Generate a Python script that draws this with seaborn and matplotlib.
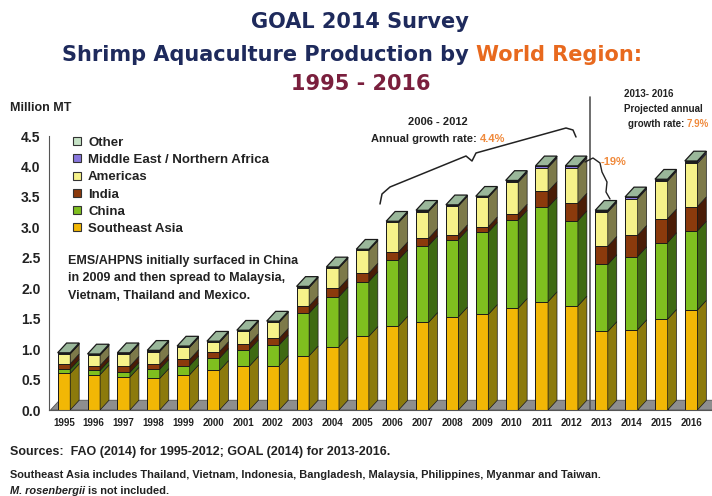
import numpy as np
import pandas as pd
import matplotlib
matplotlib.use("Agg")
import matplotlib.pyplot as plt
import seaborn as sns
from matplotlib.patches import Polygon
from matplotlib.lines import Line2D

# Million MT by region
years = [str(y) for y in range(1995, 2017)]
southeast_asia = [0.60, 0.58, 0.54, 0.52, 0.58, 0.65, 0.72, 0.73, 0.89, 1.04, 1.21,
                  1.38, 1.44, 1.53, 1.57, 1.67, 1.78, 1.71, 1.29, 1.32, 1.49, 1.64]
china = [0.07, 0.07, 0.08, 0.15, 0.15, 0.20, 0.27, 0.34, 0.70, 0.82, 0.90,
         1.09, 1.26, 1.27, 1.35, 1.45, 1.55, 1.40, 1.10, 1.20, 1.26, 1.30]
india = [0.09, 0.08, 0.10, 0.08, 0.10, 0.11, 0.10, 0.11, 0.12, 0.14, 0.14,
         0.13, 0.12, 0.08, 0.09, 0.10, 0.26, 0.29, 0.30, 0.35, 0.39, 0.40]
americas = [0.16, 0.17, 0.20, 0.21, 0.20, 0.15, 0.20, 0.26, 0.30, 0.33, 0.37,
            0.48, 0.44, 0.47, 0.48, 0.52, 0.39, 0.58, 0.56, 0.60, 0.62, 0.71]
middle_east = [0.01, 0.01, 0.01, 0.01, 0.01, 0.01, 0.01, 0.01, 0.01, 0.01, 0.01,
               0.01, 0.01, 0.01, 0.01, 0.02, 0.02, 0.02, 0.02, 0.02, 0.02, 0.03]
other = [0.01, 0.01, 0.01, 0.01, 0.01, 0.01, 0.01, 0.01, 0.01, 0.01, 0.01,
         0.01, 0.01, 0.01, 0.01, 0.01, 0.01, 0.01, 0.01, 0.01, 0.01, 0.01]

regions = ['Southeast Asia', 'China', 'India', 'Americas',
           'Middle East / Northern Africa', 'Other']
layers = [southeast_asia, china, india, americas, middle_east, other]
front_colors = ['#f2b705', '#7fbf1f', '#8b3a0c', '#f6f28a', '#8877dd', '#c6e3c6']
side_colors = ['#8c7a0c', '#3f6a12', '#4a1c06', '#7d7a4a', '#4a3f88', '#7f9a7f']
top_color = '#9ab79a'

df = pd.DataFrame({'Year': years})
for name, vals in zip(regions, layers):
    df[name] = vals
cum = df[regions].cumsum(axis=1)

sns.set_style('white')
plt.rcParams['font.family'] = ['Liberation Sans', 'DejaVu Sans']

fig = plt.figure(figsize=(7.12, 4.96), dpi=100)
ax = fig.add_axes([49 / 712, 1 - 410 / 496, 663 / 712, 274 / 496])

bar_w = 0.42
dx, dy = 0.30, 0.16   # fake depth

# floor
ax.add_patch(Polygon([(-0.45, 0), (21.75, 0), (21.75 + dx, dy), (-0.45 + dx, dy)],
                     closed=True, facecolor='#8e8e8e', edgecolor='#555555',
                     lw=0.6, zorder=0.5, clip_on=False))

# stacked front faces, drawn from the top layer down
for name, col in reversed(list(zip(regions, front_colors))):
    sns.barplot(x=df['Year'], y=cum[name], color=col, width=bar_w,
                edgecolor='#1a1a1a', linewidth=0.7, saturation=1, ax=ax, zorder=2)

# side and top faces for the 3-D look
for i in range(len(years)):
    xr = i + bar_w / 2
    prev = 0.0
    for name, scol in zip(regions, side_colors):
        top = cum.loc[i, name]
        ax.add_patch(Polygon([(xr, prev), (xr + dx, prev + dy), (xr + dx, top + dy), (xr, top)],
                             closed=True, facecolor=scol, edgecolor='#1a1a1a',
                             lw=0.5, zorder=2))
        prev = top
    ax.add_patch(Polygon([(i - bar_w / 2, prev), (i - bar_w / 2 + dx, prev + dy),
                          (xr + dx, prev + dy), (xr, prev)],
                         closed=True, facecolor=top_color, edgecolor='#1a1a1a',
                         lw=0.9, zorder=3))

ax.set_xlim(-0.45, 21.7)
ax.set_ylim(0, 4.5)
ax.set_yticks(np.arange(0, 4.51, 0.5))
ax.set_yticklabels([f'{v:.1f}' for v in np.arange(0, 4.51, 0.5)],
                   fontsize=10, fontweight='bold', color='#222222')
ax.set_xticks(range(len(years)))
ax.set_xticklabels(years, fontsize=7, fontweight='bold', color='#222222')
ax.set_xticks(np.arange(-0.5, 21.6, 1), minor=True)
ax.tick_params(axis='x', which='major', length=0, pad=6)
ax.tick_params(axis='x', which='minor', length=4, color='#555555', direction='out')
ax.tick_params(axis='y', length=4, color='#555555', direction='out', pad=2)
ax.set_xlabel('')
ax.set_ylabel('')
for s in ['top', 'right']:
    ax.spines[s].set_visible(False)
ax.spines['left'].set_color('#555555')
ax.spines['bottom'].set_color('#555555')

# legend
handles = [Line2D([], [], marker='s', ls='', markersize=6, markerfacecolor=c,
                  markeredgecolor='#333333', markeredgewidth=0.8)
           for c in front_colors]
leg = ax.legend(handles[::-1], regions[::-1], loc='upper left',
                bbox_to_anchor=(0.035, 0.998), frameon=False, borderpad=0,
                borderaxespad=0, handlelength=0.8, handletextpad=0.4,
                labelspacing=0.38, prop={'weight': 'bold', 'size': 9.5})
for t in leg.get_texts():
    t.set_color('#222222')

ax.text(0.15, 2.55, 'EMS/AHPNS initially surfaced in China\nin 2009 and then spread to Malaysia,\nVietnam, Thailand and Mexico.',
        fontsize=9, fontweight='bold', color='#222222', va='top', linespacing=1.62)

# titles
title_font = ['DejaVu Sans']
fig.text(0.506, 1 - 22 / 496, 'GOAL 2014 Survey', ha='center', va='center',
         fontsize=15, fontweight='bold', color='#1e2a5c', family=title_font)
fig.text(476 / 712, 1 - 55 / 496, 'Shrimp Aquaculture Production by ', ha='right', va='center',
         fontsize=15, fontweight='bold', color='#1e2a5c', family=title_font)
fig.text(476 / 712, 1 - 55 / 496, 'World Region:', ha='left', va='center',
         fontsize=15, fontweight='bold', color='#e8691e', family=title_font)
fig.text(0.506, 1 - 84 / 496, '1995 - 2016', ha='center', va='center',
         fontsize=15, fontweight='bold', color='#7a1f3d', family=title_font)

fig.text(10 / 712, 1 - 108 / 496, 'Million MT', fontsize=9, fontweight='bold',
         color='#222222', va='center')

# 2006-2012 annotation
fig.text(438 / 712, 1 - 122 / 496, '2006 - 2012', ha='center', va='center',
         fontsize=8, fontweight='bold', color='#222222')
fig.text(480 / 712, 1 - 139 / 496, 'Annual growth rate: ', ha='right', va='center',
         fontsize=8, fontweight='bold', color='#222222')
fig.text(480 / 712, 1 - 139 / 496, '4.4%', ha='left', va='center',
         fontsize=8, fontweight='bold', color='#f08a3c')

def px(points):
    return [p[0] / 712 for p in points], [1 - p[1] / 496 for p in points]

brace = [(380, 204), (382, 194), (390, 187), (466, 156), (472, 161),
         (476, 153), (566, 128), (573, 130), (576, 137)]
bx, by = px(brace)
fig.add_artist(Line2D(bx, by, color='#222222', lw=1.1))

# projection split
ax.plot([17.6, 17.6], [0, 5.14], color='#555555', lw=1.2, clip_on=False, zorder=4)
fig.text(624 / 712, 1 - 94 / 496, '2013- 2016', fontsize=7, fontweight='bold',
         color='#222222', va='center')
fig.text(624 / 712, 1 - 109 / 496, 'Projected annual', fontsize=7, fontweight='bold',
         color='#222222', va='center')
fig.text(687 / 712, 1 - 124 / 496, 'growth rate: ', ha='right', fontsize=7, fontweight='bold',
         color='#222222', va='center')
fig.text(687 / 712, 1 - 124 / 496, '7.9%', fontsize=7, fontweight='bold',
         color='#f08a3c', va='center')

wave = [(585, 162), (593, 158), (600, 163), (602, 172), (607, 182),
        (606, 192), (610, 199)]
wx, wy = px(wave)
fig.add_artist(Line2D(wx, wy, color='#222222', lw=1.0))
fig.text(601 / 712, 1 - 162 / 496, '-19%', fontsize=8, fontweight='bold',
         color='#f08a3c', va='center')

# footnotes
fig.text(10 / 712, 1 - 452 / 496, 'Sources:  FAO (2014) for 1995-2012; GOAL (2014) for 2013-2016.',
         fontsize=9, fontweight='bold', color='#222222', va='center')
fig.text(10 / 712, 1 - 475 / 496,
         'Southeast Asia includes Thailand, Vietnam, Indonesia, Bangladesh, Malaysia, Philippines, Myanmar and Taiwan.',
         fontsize=7.9, fontweight='bold', color='#222222', va='center')
t_it = fig.text(10 / 712, 1 - 491 / 496, 'M. rosenbergii', fontsize=7.9, fontweight='bold',
                style='italic', color='#222222', va='center')
fig.canvas.draw()
bb = t_it.get_window_extent()
fig.text(bb.x1 / 712, 1 - 491 / 496, ' is not included.', fontsize=7.9, fontweight='bold',
         color='#222222', va='center')

fig.savefig('out.png', dpi=100)
